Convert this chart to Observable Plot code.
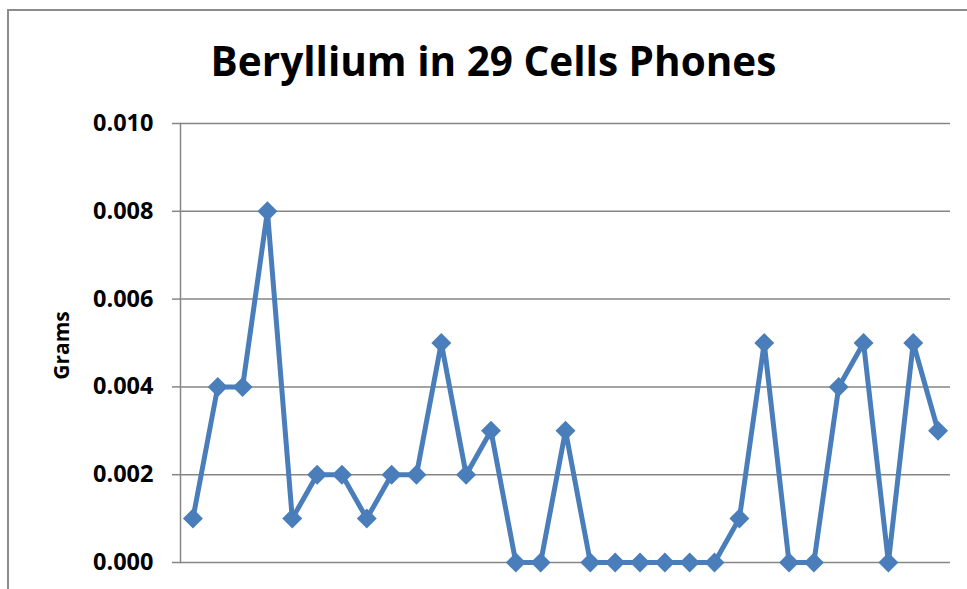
<!DOCTYPE html>
<html><head><meta charset="utf-8">
<script src="https://cdn.jsdelivr.net/npm/d3@7"></script>
<script src="https://cdn.jsdelivr.net/npm/@observablehq/plot@0.6"></script>
<style>
body{margin:0;background:#fff;overflow:hidden}
#wrap{position:relative;width:967px;height:589px;overflow:hidden}
#border{position:absolute;left:7px;top:9px;width:2000px;height:2000px;border-left:2px solid #8c8c8c;border-top:2px solid #8c8c8c;pointer-events:none}
</style></head><body><div id="wrap"><div id="border"></div></div>
<script>
const title = "Beryllium in 29 Cells Phones";
const yLabel = "Grams";
const phones = d3.range(1, 32);
const beryllium = [0.001,0.004,0.004,0.008,0.001,0.002,0.002,0.001,0.002,0.002,0.005,0.002,0.003,0,0,0.003,0,0,0,0,0,0,0.001,0.005,0,0,0.004,0.005,0,0.005,0.003];
const yTicks = [0, 0.002, 0.004, 0.006, 0.008, 0.010];
const data = phones.map((p, i) => ({phone: p, grams: beryllium[i]}));
const blue = "#4a7ebb";
const grid = "#868686";
const chart = Plot.plot({
  width: 967, height: 589,
  marginLeft: 180, marginRight: 17, marginTop: 123, marginBottom: 27,
  style: {fontFamily: "'Open Sans', sans-serif", background: "transparent", overflow: "visible"},
  x: {type: "point", domain: phones, padding: 0.5, round: false, axis: null},
  y: {domain: [0, 0.010], ticks: yTicks},
  marks: [
    Plot.ruleY(yTicks, {stroke: grid, strokeWidth: 1.5}),
    Plot.frame({anchor: "left", stroke: grid, strokeWidth: 1.5}),
    Plot.axisY(yTicks, {tickSize: 8, tickPadding: 19, tickFormat: d3.format(".3f"), fontWeight: "bold", fontSize: 23.5, stroke: grid, strokeWidth: 1.5, fill: "black", label: null}),
    Plot.line(data, {x: "phone", y: "grams", stroke: blue, strokeWidth: 5, strokeLinejoin: "round"}),
    Plot.dot(data, {x: "phone", y: "grams", symbol: "diamond2", r: 9, fill: blue, stroke: "none"}),
    Plot.text([title], {frameAnchor: "top", textAnchor: "middle", lineAnchor: "top", dx: -72, dy: -76, fontSize: 40.5, fontWeight: "bold", fill: "black"}),
    Plot.text([yLabel], {frameAnchor: "left", textAnchor: "middle", rotate: -90, dx: -118, dy: 2.5, fontSize: 21, fontWeight: "bold", fill: "black"})
  ]
});
document.getElementById("wrap").prepend(chart);
</script>
</body></html>
